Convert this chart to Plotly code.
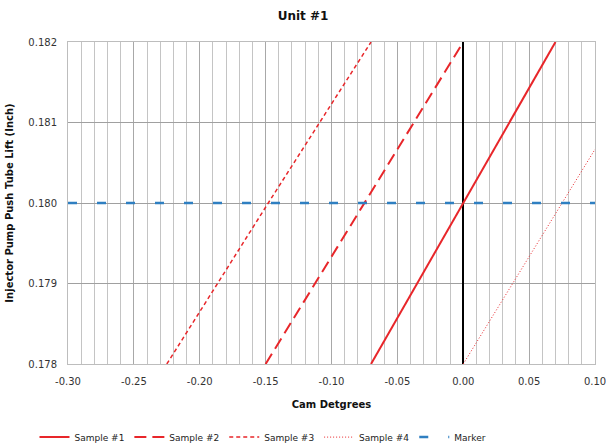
import plotly.graph_objects as go

# Data
s1_x = [-0.07, 0.00, 0.07]
s1_y = [0.178, 0.180, 0.182]
s2_x = [-0.15, -0.075, 0.00]
s2_y = [0.178, 0.180, 0.182]
s3_x = [-0.225, -0.148, -0.07]
s3_y = [0.178, 0.180, 0.182]
s4_x = [0.00, 0.075, 0.15]
s4_y = [0.178, 0.180, 0.182]
marker_x = [-0.30, 0.10]
marker_y = [0.180, 0.180]

x_ticks = [-0.30, -0.25, -0.20, -0.15, -0.10, -0.05, 0.00, 0.05, 0.10]
y_ticks = [0.178, 0.179, 0.180, 0.181, 0.182]

RED = "#e8262a"
BLUE = "#2f7fc1"
FONT = "DejaVu Sans"

fig = go.Figure()
fig.add_trace(go.Scatter(x=s1_x, y=s1_y, mode="lines", name="Sample #1",
                         line=dict(color=RED, width=2, dash="solid")))
fig.add_trace(go.Scatter(x=s2_x, y=s2_y, mode="lines", name="Sample #2",
                         line=dict(color=RED, width=2, dash="12px,6px")))
fig.add_trace(go.Scatter(x=s3_x, y=s3_y, mode="lines", name="Sample #3",
                         line=dict(color=RED, width=1.5, dash="4px,3px")))
fig.add_trace(go.Scatter(x=s4_x, y=s4_y, mode="lines", name="Sample #4",
                         line=dict(color=RED, width=1, dash="1px,2px")))
fig.add_trace(go.Scatter(x=marker_x, y=marker_y, mode="lines", name="Marker",
                         line=dict(color=BLUE, width=2.5, dash="9px,20px")))

fig.update_layout(
    width=606, height=448,
    margin=dict(l=68, r=11, t=42, b=84, autoexpand=False),
    paper_bgcolor="white", plot_bgcolor="white",
    font=dict(family=FONT, size=10, color="#222"),
    title=dict(text="<b>Unit #1</b>", x=0.5, xanchor="center", y=0.965, yanchor="middle",
               font=dict(family=FONT, size=12, color="#111")),
    showlegend=True,
    legend=dict(orientation="h", x=0.37, xanchor="center", y=-0.227, yanchor="middle",
                font=dict(family=FONT, size=9, color="#222"), itemwidth=30,
                tracegroupgap=0),
    xaxis=dict(
        range=[-0.30, 0.10], tickmode="array", tickvals=x_ticks,
        ticktext=[f"{v:.2f}" for v in x_ticks],
        ticklabeloverflow="allow",
        showgrid=True, gridcolor="#a8a8a8", gridwidth=1,
        minor=dict(dtick=0.01, showgrid=True, gridcolor="#c4c4c4", gridwidth=1),
        zeroline=True, zerolinecolor="#000000", zerolinewidth=2,
        showline=True, linecolor="#bdbdbd", mirror=True,
        ticks="", ticklabelstandoff=8,
        title=dict(text="<b>Cam Detgrees</b>", standoff=14,
                   font=dict(family=FONT, size=10, color="#111")),
        tickfont=dict(family=FONT, size=10, color="#333"),
    ),
    yaxis=dict(
        range=[0.178, 0.182], tickmode="array", tickvals=y_ticks,
        ticktext=[f"{v:.3f}" for v in y_ticks],
        showgrid=True, gridcolor="#a0a0a0", gridwidth=1,
        zeroline=False,
        showline=True, linecolor="#bdbdbd", mirror=True,
        ticks="", ticklabelstandoff=8,
        title=dict(text="<b>Injector Pump Push Tube Lift (Inch)</b>", standoff=12,
                   font=dict(family=FONT, size=10, color="#111")),
        tickfont=dict(family=FONT, size=10, color="#333"),
    ),
)

fig.write_html("out.html")
